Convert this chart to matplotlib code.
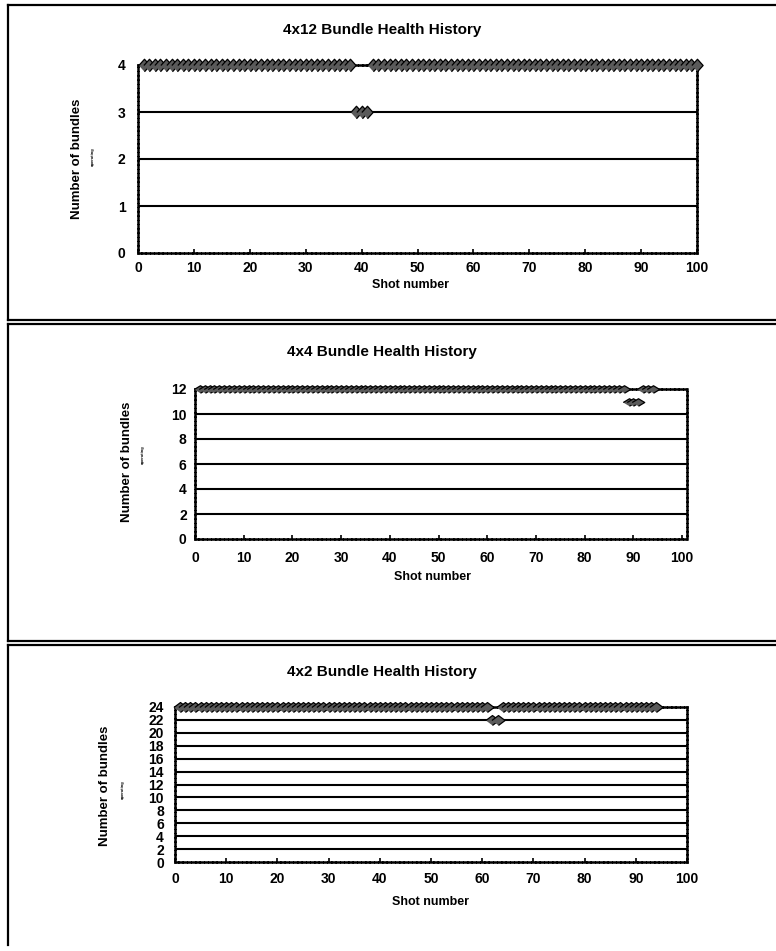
import matplotlib.pyplot as plt
from matplotlib.lines import Line2D

plt.rcParams['font.family'] = ['Liberation Sans', 'DejaVu Sans']
plt.rcParams['font.weight'] = 'bold'

# data (bundles operating per shot)
shots_4x12 = list(range(1, 101))
bundles_4x12 = [4] * 38 + [3] * 3 + [4] * 59

shots_4x4 = list(range(1, 95))
bundles_4x4 = [12] * 88 + [11] * 3 + [12] * 3

shots_4x2 = list(range(1, 95))
bundles_4x2 = [24] * 61 + [22] * 2 + [24] * 31

yticks_4x12 = [0, 1, 2, 3, 4]
yticks_4x4 = [0, 2, 4, 6, 8, 10, 12]
yticks_4x2 = [0, 2, 4, 6, 8, 10, 12, 14, 16, 18, 20, 22, 24]
xticks = [0, 10, 20, 30, 40, 50, 60, 70, 80, 90, 100]

W, H = 776, 951
fig = plt.figure(figsize=(W / 100, H / 100), dpi=100)


def fx(px):
    return px / W


def fy(py):
    return 1 - py / H


def fig_line(x0, y0, x1, y1):
    fig.add_artist(Line2D([fx(x0), fx(x1)], [fy(y0), fy(y1)], color='black',
                          lw=1.6, transform=fig.transFigure))


# panel frames
fig_line(8, 5, 776, 5)
fig_line(8, 5, 8, 320)
fig_line(8, 320, 776, 320)
fig_line(8, 324, 776, 324)
fig_line(8, 324, 8, 641)
fig_line(8, 641, 776, 641)
fig_line(8, 645, 776, 645)
fig_line(8, 645, 8, 945)


def panel(box, shots, vals, yticks, xmax, title, title_y, xlab, ylab, oplab,
          verts, ms, xpad, ypad):
    left, top, right, bottom = box
    ax = fig.add_axes([fx(left), fy(bottom), fx(right - left), (bottom - top) / H])
    for y in yticks[1:-1]:
        ax.axhline(y, color='black', lw=1.5, zorder=1)
    ax.plot(shots, vals, linestyle='none', marker=verts, ms=ms,
            mfc='#5a5a5a', mec='black', mew=0.9, clip_on=False, zorder=3)
    ax.set_xlim(0, xmax)
    ax.set_ylim(yticks[0], yticks[-1])
    ax.set_xticks(xticks)
    ax.set_yticks(yticks)
    for sp in ax.spines.values():
        sp.set_linestyle((0, (1, 0.7)))
        sp.set_linewidth(1.8)
    ax.tick_params(axis='x', direction='in', length=3, width=1.2, pad=xpad,
                   labelsize=10)
    ax.tick_params(axis='y', length=0, pad=ypad, labelsize=10)
    fig.text(fx(382), fy(title_y), title, ha='center', va='center', fontsize=11)
    fig.text(fx(xlab[0]), fy(xlab[1]), 'Shot number', ha='center', va='center',
             fontsize=9)
    fig.text(fx(ylab[0]), fy(ylab[1]), 'Number of bundles', ha='center',
             va='center', rotation=90, fontsize=9.5)
    fig.text(fx(oplab[0]), fy(oplab[1]), 'operating', ha='center', va='center',
             rotation=90, fontsize=3)
    return ax


diamond_tall = [(-0.9, 0), (0, 1), (0.9, 0), (0, -1)]
diamond_flat = [(-1, 0), (0, 0.6), (1, 0), (0, -0.6)]
diamond_mid = [(-1, 0), (0, 0.75), (1, 0), (0, -0.75)]

panel((138, 65, 697, 253), shots_4x12, bundles_4x12, yticks_4x12, 100,
      '4x12 Bundle Health History', 30, (410, 285), (77, 159), (93, 157),
      diamond_tall, 9, 6, 9)
panel((195, 389, 687, 539), shots_4x4, bundles_4x4, yticks_4x4, 101,
      '4x4 Bundle Health History', 352, (433, 577), (127, 462), (143, 455),
      diamond_flat, 9, 9, 6)
panel((175, 707, 687, 862), shots_4x2, bundles_4x2, yticks_4x2, 100,
      '4x2 Bundle Health History', 672, (430, 902), (105, 786), (123, 790),
      diamond_mid, 9.5, 7, 8)

fig.savefig('out.png', dpi=100)
